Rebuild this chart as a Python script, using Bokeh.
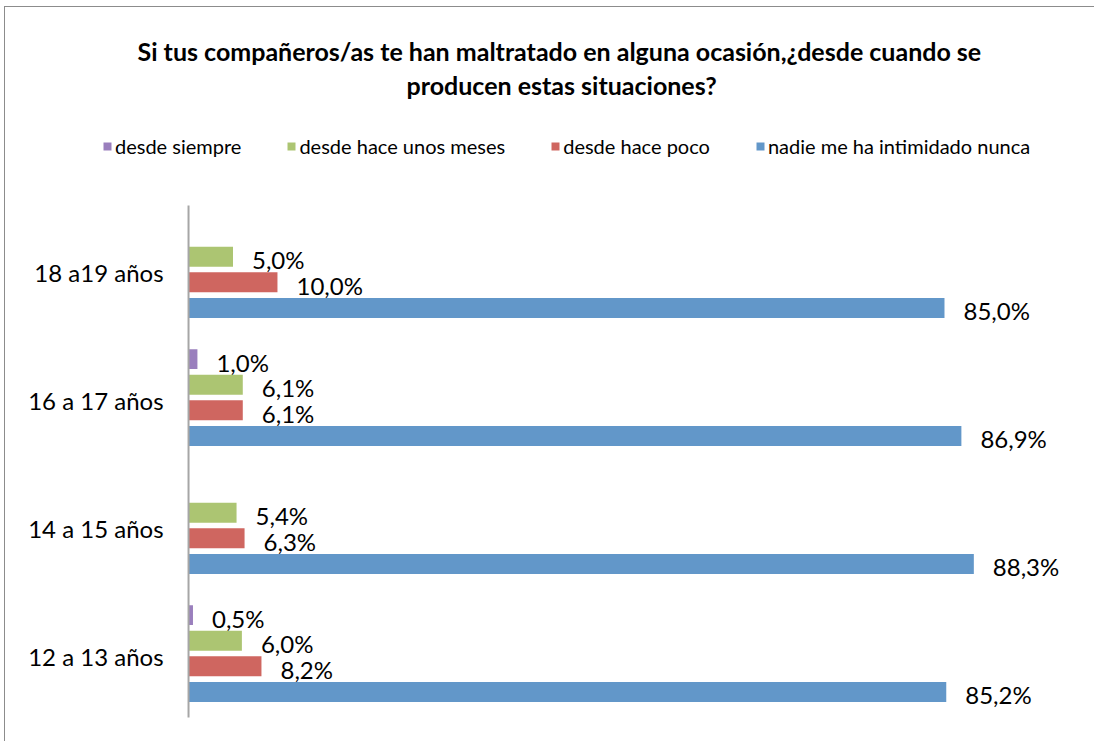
from bokeh.plotting import figure
from bokeh.models import ColumnDataSource, Legend, LegendItem, Title, Range1d
from bokeh.core.properties import value
from bokeh.embed import file_html
from bokeh.resources import INLINE

categories = ["12 a 13 años", "14 a 15 años", "16 a 17 años", "18 a19 años"]
series = ["desde siempre", "desde hace unos meses", "desde hace poco", "nadie me ha intimidado nunca"]
desde_siempre = [0.5, None, 1.0, None]
desde_hace_unos_meses = [6.0, 5.4, 6.1, 5.0]
desde_hace_poco = [8.2, 6.3, 6.1, 10.0]
nadie_me_ha_intimidado = [85.2, 88.3, 86.9, 85.0]

values = [desde_siempre, desde_hace_unos_meses, desde_hace_poco, nadie_me_ha_intimidado]
colors = ["#9A7FBD", "#ACC572", "#CF6660", "#6297C9"]
offsets = [0.3, 0.1, -0.1, -0.3]

FONT = "Lato"

p = figure(width=1090, height=735, output_backend="svg", toolbar_location=None,
           x_range=Range1d(-20.58, 101.98), y_range=Range1d(-0.695, 4.305), title=None,
           min_border_left=0, min_border_right=0, min_border_top=95, min_border_bottom=0)

renderers = []
for name, vals, col, off in zip(series, values, colors, offsets):
    ys, xs, labels = [], [], []
    for i, v in enumerate(vals):
        if v is None:
            continue
        ys.append(i + off)
        xs.append(v)
        labels.append(f"{v:.1f}%".replace(".", ","))
    src = ColumnDataSource(dict(y=ys, x=xs, label=labels))
    r = p.hbar(y="y", left=0, right="x", height=0.156, source=src, fill_color=col,
               line_color=None)
    renderers.append(r)
    p.text(x="x", y="y", text="label", source=src, x_offset=19, y_offset=3,
           text_baseline="middle", text_align="left", text_font=value(FONT),
           text_font_size="24px", text_color="#000000")

# category axis: baseline and labels
cat_src = ColumnDataSource(dict(y=list(range(len(categories))), label=categories,
                                x=[0] * len(categories)))
p.segment(x0=0, y0=-0.5, x1=0, y1=len(categories) - 0.5, line_color="#A6A6A6", line_width=2)
p.text(x="x", y="y", text="label", source=cat_src, x_offset=-25, y_offset=3,
       text_baseline="middle", text_align="right", text_font=value(FONT),
       text_font_size="24px", text_color="#000000")

p.xaxis.visible = False
p.yaxis.visible = False
p.xgrid.visible = False
p.ygrid.visible = False
p.outline_line_color = None

legend = Legend(items=[LegendItem(label=n, renderers=[r]) for n, r in zip(series, renderers)],
                orientation="horizontal", location=(97, 584), glyph_width=10, glyph_height=10,
                label_standoff=3, spacing=45, padding=2, margin=0,
                label_text_font=FONT, label_text_font_size="20px", label_text_color="#000000",
                border_line_color=None, background_fill_alpha=0)
p.add_layout(legend, "center")

t2 = Title(text="producen estas situaciones?", align="left", offset=401, standoff=5,
           text_font=FONT, text_font_size="25px", text_font_style="bold", text_color="#000000")
t1 = Title(text="Si tus compañeros/as te han maltratado en alguna ocasión,¿desde cuando se",
           align="left", offset=132, standoff=0, text_font=FONT, text_font_size="25px",
           text_font_style="bold", text_color="#000000")
p.add_layout(t2, "above")
p.add_layout(t1, "above")

p.styles = {"border-left": "1px solid #8C8C8C", "border-top": "1px solid #8C8C8C",
            "margin-left": "4px", "margin-top": "6px"}

open("out.html", "w").write(file_html(p, INLINE))
